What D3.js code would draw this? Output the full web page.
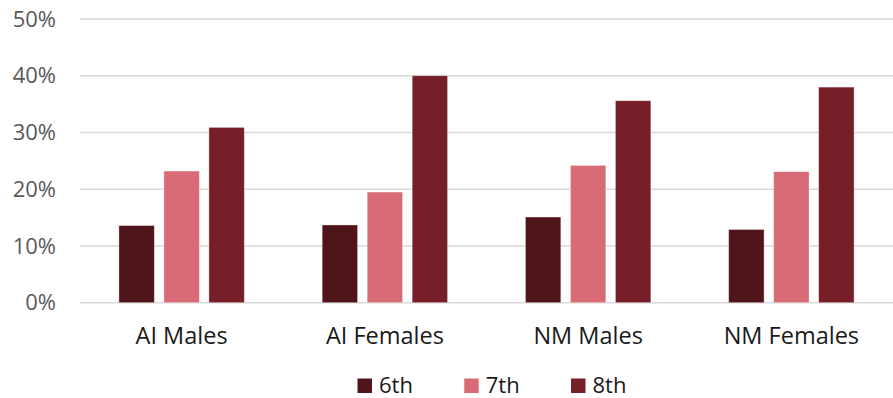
<!DOCTYPE html>
<html>
<head>
<meta charset="utf-8">
<script src="https://cdn.jsdelivr.net/npm/d3@7"></script>
<style>
  html, body { margin: 0; padding: 0; background: #fff; }
  svg { display: block; font-family: "Open Sans", sans-serif; }
</style>
</head>
<body>
<svg id="chart" width="893" height="398"></svg>
<script>
// Share of students by grade, per group
const categories = ["AI Males", "AI Females", "NM Males", "NM Females"];
const seriesNames = ["6th", "7th", "8th"];
const grade6 = [0.136, 0.137, 0.151, 0.129];
const grade7 = [0.232, 0.195, 0.242, 0.231];
const grade8 = [0.309, 0.400, 0.356, 0.380];
const tickValues = [0, 0.1, 0.2, 0.3, 0.4, 0.5];
const colors = ["#4F151B", "#D96B76", "#761F29"];

const seriesValues = [grade6, grade7, grade8];

const svg = d3.select("#chart");
const margin = { left: 80, right: 0 };
const W = 893;

const x0 = d3.scaleBand()
  .domain(categories)
  .range([margin.left, W - margin.right])
  .padding(0);

const x1 = d3.scaleBand()
  .domain(seriesNames)
  .range([0, x0.bandwidth()])
  .paddingInner(0.213)
  .paddingOuter(0.865);

const y = d3.scaleLinear()
  .domain([0, 0.5])
  .range([302.7, 19]);

const color = d3.scaleOrdinal().domain(seriesNames).range(colors);

// Horizontal gridlines
svg.append("g")
  .selectAll("line")
  .data(tickValues)
  .join("line")
  .attr("x1", margin.left)
  .attr("x2", W)
  .attr("y1", d => y(d))
  .attr("y2", d => y(d))
  .attr("stroke", "#D9D9D9")
  .attr("stroke-width", 1.5);

// Y axis labels
const yAxis = d3.axisLeft(y)
  .tickValues(tickValues)
  .tickFormat(d3.format(".0%"))
  .tickSize(0)
  .tickPadding(0);

svg.append("g")
  .attr("transform", "translate(56,0)")
  .call(yAxis)
  .call(g => g.select(".domain").remove())
  .call(g => g.selectAll("text")
    .attr("fill", "#595959")
    .attr("font-family", "'Open Sans', sans-serif")
    .attr("font-size", 22));

// Bars
const rows = categories.map((c, i) => ({
  category: c,
  values: seriesNames.map((s, j) => ({ series: s, value: seriesValues[j][i] }))
}));

svg.append("g")
  .selectAll("g")
  .data(rows)
  .join("g")
  .attr("transform", d => `translate(${x0(d.category)},0)`)
  .selectAll("rect")
  .data(d => d.values)
  .join("rect")
  .attr("x", d => x1(d.series))
  .attr("width", x1.bandwidth())
  .attr("y", d => y(d.value))
  .attr("height", d => y(0) - y(d.value))
  .attr("fill", d => color(d.series))
  .attr("stroke", "#ffffff")
  .attr("stroke-opacity", 0.45)
  .attr("stroke-width", 0.8);

// Category labels
const xAxis = d3.axisBottom(x0).tickSize(0).tickPadding(0);
svg.append("g")
  .attr("transform", "translate(0,327)")
  .call(xAxis)
  .call(g => g.select(".domain").remove())
  .call(g => g.selectAll("text")
    .attr("fill", "#1a1a1a")
    .attr("font-family", "'Open Sans', sans-serif")
    .attr("font-size", 23.5)
    .attr("dy", "0.71em"));

// Legend
const legendX = d3.scalePoint()
  .domain(seriesNames)
  .range([357.5, 571]);

const legend = svg.append("g")
  .selectAll("g")
  .data(seriesNames)
  .join("g")
  .attr("transform", d => `translate(${legendX(d)},378.5)`);

legend.append("rect")
  .attr("width", 14.5)
  .attr("height", 14.5)
  .attr("fill", d => color(d));

legend.append("text")
  .attr("x", 21.5)
  .attr("y", 14)
  .attr("fill", "#1a1a1a")
  .attr("font-size", 22)
  .text(d => d);
</script>
</body>
</html>
